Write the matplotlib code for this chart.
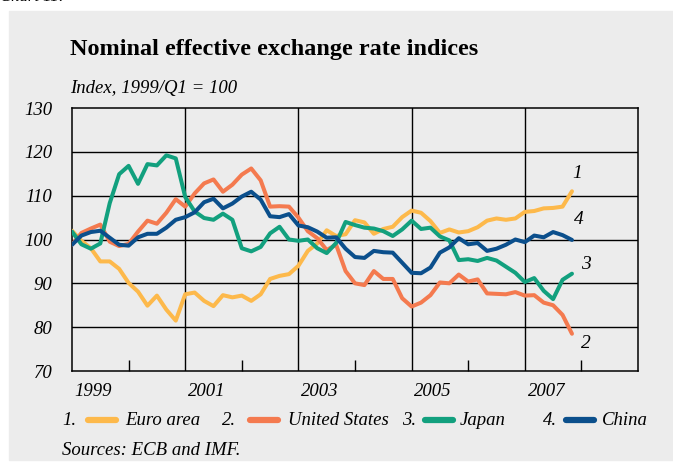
import numpy as np
import pandas as pd
import matplotlib
matplotlib.use("Agg")
import matplotlib.pyplot as plt
from matplotlib.lines import Line2D
from matplotlib.patches import Rectangle

plt.rcParams['font.family'] = ['Liberation Serif', 'DejaVu Serif']

# bi-monthly readings, Jan 1999 .. Nov 2007
dates = pd.date_range('1999-01-01', '2007-11-01', freq='2MS')

euro = [102.0, 99.7, 98.0, 95.0, 95.0, 93.3, 90.1, 88.1, 84.9, 87.2,
        84.0, 81.5, 87.5, 87.9, 86.0, 84.8, 87.3, 86.8, 87.2, 86.0,
        87.5, 91.0, 91.7, 92.1, 94.0, 97.4, 99.1, 102.1, 100.8, 101.2,
        104.4, 103.9, 101.3, 102.4, 102.9, 105.1, 106.6, 106.1, 104.2, 101.5,
        102.3, 101.6, 101.9, 102.8, 104.3, 104.8, 104.5, 104.8, 106.3, 106.5,
        107.1, 107.2, 107.5, 111.0]
usa = [98.8, 101.5, 102.5, 103.4, 99.5, 98.5, 99.0, 101.8, 104.3, 103.6,
       106.1, 109.2, 107.5, 110.5, 112.8, 113.7, 110.9, 112.5, 114.8, 116.2,
       113.5, 107.5, 107.6, 107.5, 105.0, 101.9, 100.3, 97.6, 98.8, 92.8,
       90.0, 89.6, 92.8, 91.0, 91.0, 86.6, 84.7, 85.6, 87.3, 90.2,
       90.0, 92.0, 90.4, 90.9, 87.7, 87.6, 87.5, 88.0, 87.2, 87.3,
       85.6, 85.0, 82.8, 78.5]
japan = [101.8, 98.9, 97.9, 99.1, 108.3, 114.9, 116.8, 112.7, 117.2, 116.9,
         119.2, 118.5, 109.7, 106.4, 104.9, 104.5, 105.9, 104.5, 98.0, 97.3,
         98.3, 101.4, 102.9, 100.0, 99.7, 100.0, 98.0, 96.9, 99.2, 104.0,
         103.3, 102.7, 102.5, 101.9, 100.8, 102.3, 104.3, 102.4, 102.7, 100.7,
         99.8, 95.3, 95.5, 95.1, 95.8, 95.2, 93.8, 92.4, 90.3, 91.2,
         88.3, 86.4, 90.8, 92.2]
china = [98.8, 100.9, 101.7, 102.0, 100.4, 98.8, 98.6, 100.5, 101.3, 101.3,
         102.7, 104.5, 105.1, 106.2, 108.5, 109.3, 107.1, 108.2, 109.8, 110.9,
         109.1, 105.3, 105.1, 105.8, 103.2, 102.8, 101.8, 100.4, 100.5, 97.9,
         96.0, 95.8, 97.4, 97.1, 97.0, 94.7, 92.4, 92.3, 93.6, 97.0,
         98.2, 100.3, 98.9, 99.2, 97.4, 97.9, 98.8, 100.0, 99.4, 100.9,
         100.5, 101.7, 101.0, 99.9]

names = ['Euro area', 'United States', 'Japan', 'China']
colors = ['#fdb94b', '#f47a4f', '#12a07e', '#0b4f8c']
series = [euro, usa, japan, china]
years = [1999, 2001, 2003, 2005, 2007]

W, H = 673, 465
bg = '#ececec'
fig = plt.figure(figsize=(W / 100, H / 100), dpi=100)


def fx(x):
    return x / W


def fy(y):
    return 1 - y / H


# grey panel
fig.patches.append(Rectangle((fx(9), fy(460)), fx(664), (460 - 11) / H,
                             transform=fig.transFigure, color=bg, zorder=-10))
fig.text(0.0, 1 + 3 / H, 'Chart 11:', style='italic', fontsize=12, va='center')

ax = fig.add_axes([fx(72), fy(371), fx(638) - fx(72), (371 - 108) / H])
ax.set_facecolor(bg)

x = dates.year + (dates.month - 1) / 12
for vals, c in zip(series, colors):
    ax.plot(x, vals, color=c, lw=2.9, solid_capstyle='round', zorder=3)

ax.set_xlim(1999, 2009)
ax.set_ylim(70, 130)
for v in range(80, 130, 10):
    ax.axhline(v, color='black', lw=1.0, zorder=1)
for yr in years[1:]:
    ax.axvline(yr, color='black', lw=1.0, zorder=1)
for s in ax.spines.values():
    s.set_linewidth(1.1)

ax.set_yticks(range(70, 131, 10))
ax.set_yticklabels([str(v) for v in range(70, 131, 10)], style='italic', fontsize=13.5)
ax.tick_params(axis='y', length=0, pad=14)
ax.set_xticks([yr + 1 for yr in years])
ax.set_xticklabels([])
ax.tick_params(axis='x', direction='in', length=8, width=1.0)
for yr in years:
    ax.text(yr + 0.38, 65.3, str(yr), style='italic', fontsize=13.5,
            ha='center', va='center', clip_on=False)

# end labels
xl = x[-1]
ax.text(xl + 0.1, euro[-1] + 3.0, '1', style='italic', fontsize=14, ha='center')
ax.text(xl + 0.12, china[-1] + 3.6, '4', style='italic', fontsize=14, ha='center')
ax.text(xl + 0.25, japan[-1] + 1.0, '3', style='italic', fontsize=14, ha='center')
ax.text(xl + 0.25, usa[-1] - 2.3, '2', style='italic', fontsize=14, ha='center', va='center')

fig.text(fx(70), fy(50), 'Nominal effective exchange rate indices',
         fontsize=17.5, fontweight='bold', va='center')
fig.text(fx(70), fy(88), 'Index, 1999/Q1 = 100', style='italic', fontsize=13.5, va='center')

# legend
leg = [(62, 88, 125), (222, 250, 288), (402, 425, 460), (543, 566, 602)]
for i, ((nx, lx, tx), name, c) in enumerate(zip(leg, names, colors)):
    fig.text(fx(nx), fy(420), f'{i + 1}.', style='italic', fontsize=13.5, va='center')
    fig.add_artist(Line2D([fx(lx), fx(lx + 28)], [fy(420), fy(420)], color=c, lw=4.5,
                          solid_capstyle='round', transform=fig.transFigure))
    fig.text(fx(tx), fy(420), name, style='italic', fontsize=13.5, va='center')

fig.text(fx(62), fy(450), 'Sources: ECB and IMF.', style='italic', fontsize=13.5, va='center')

fig.savefig('out.png', dpi=100)
